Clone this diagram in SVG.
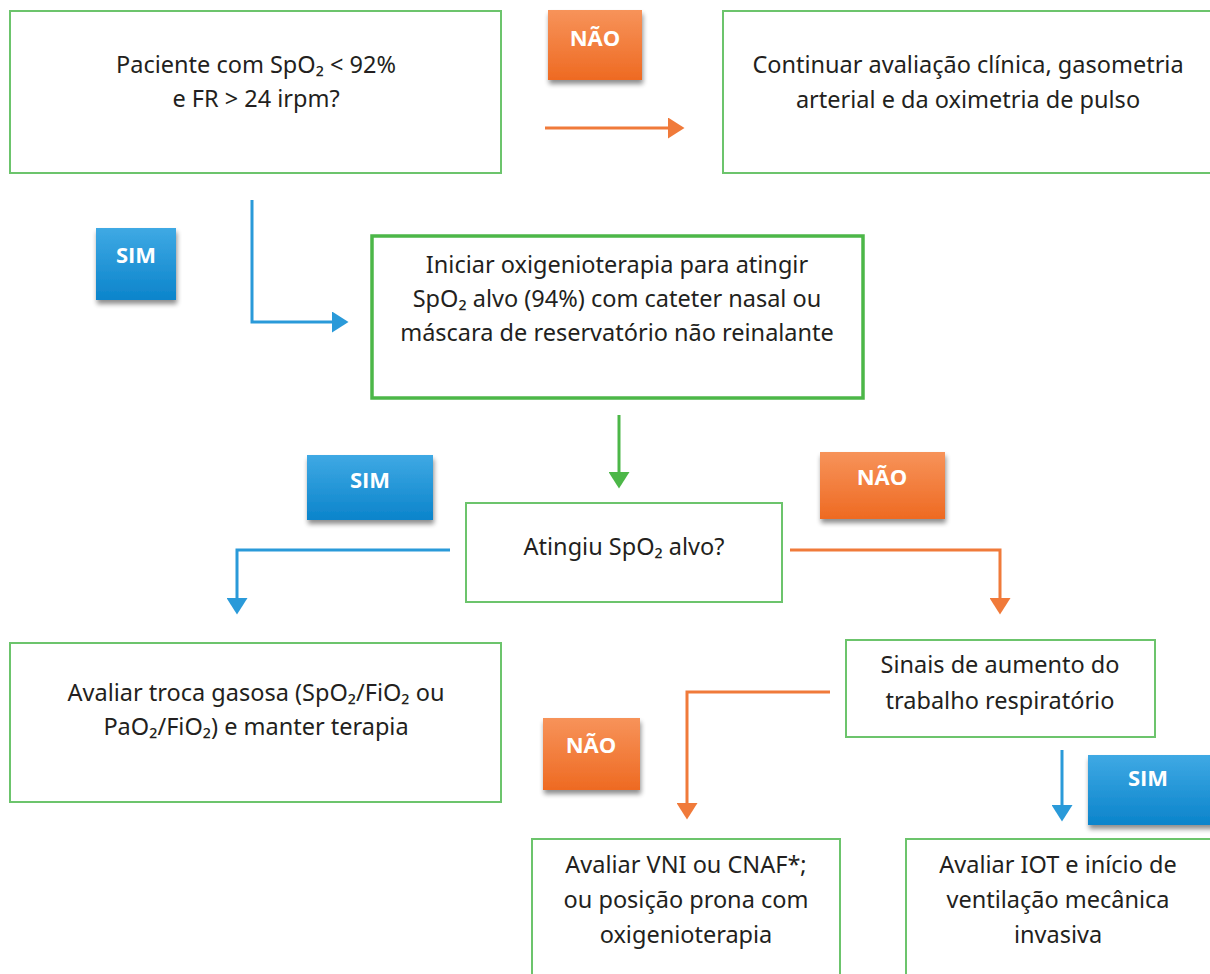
<svg xmlns="http://www.w3.org/2000/svg" width="1210" height="974" viewBox="0 0 1210 974">
<defs>
<linearGradient id="gOr" x1="0" y1="0" x2="0" y2="1"><stop offset="0" stop-color="#f7935a"/><stop offset="1" stop-color="#ee6a22"/></linearGradient>
<linearGradient id="gBl" x1="0" y1="0" x2="0" y2="1"><stop offset="0" stop-color="#3fa9e4"/><stop offset="1" stop-color="#0b84cb"/></linearGradient>
<filter id="sh" x="-20%" y="-20%" width="150%" height="150%"><feGaussianBlur in="SourceAlpha" stdDeviation="2.5"/><feOffset dx="1" dy="4"/><feComponentTransfer><feFuncA type="linear" slope="0.45"/></feComponentTransfer><feMerge><feMergeNode/><feMergeNode in="SourceGraphic"/></feMerge></filter>
<marker id="aO" markerWidth="6" markerHeight="7" refX="4" refY="3.5" orient="auto" markerUnits="strokeWidth"><path d="M0,0 L5.5,3.5 L0,7 z" fill="#f07a3a"/></marker>
<marker id="aB" markerWidth="6" markerHeight="7" refX="4" refY="3.5" orient="auto" markerUnits="strokeWidth"><path d="M0,0 L5.5,3.5 L0,7 z" fill="#2a9ad9"/></marker>
<marker id="aG" markerWidth="6" markerHeight="7" refX="4" refY="3.5" orient="auto" markerUnits="strokeWidth"><path d="M0,0 L5.5,3.5 L0,7 z" fill="#4cb748"/></marker>
</defs>
<style>
.box{fill:#fff;stroke:#6cc46c;stroke-width:2}
.boxT{fill:#fff;stroke:#4cb748;stroke-width:3.5}
.t{font-family:"Noto Sans","Open Sans",sans-serif;font-size:23.5px;fill:#231f20;text-anchor:middle}
.b{font-family:"Open Sans","Noto Sans",sans-serif;font-size:22px;font-weight:bold;fill:#fff;text-anchor:middle}
.lo{fill:none;stroke:#f07a3a;stroke-width:3}
.lb{fill:none;stroke:#2a9ad9;stroke-width:3}
.lg{fill:none;stroke:#4cb748;stroke-width:3}
</style>
<rect width="1210" height="974" fill="#fff"/>

<g id="connectors">
<path class="lo" d="M545,128 H680" marker-end="url(#aO)"/>
<path class="lb" d="M252,200 V322 H344" marker-end="url(#aB)"/>
<path class="lg" d="M619,415 V484" marker-end="url(#aG)"/>
<path class="lb" d="M450,550 H237 V610" marker-end="url(#aB)"/>
<path class="lo" d="M790,550 H1000 V610" marker-end="url(#aO)"/>
<path class="lo" d="M830,692 H687 V815" marker-end="url(#aO)"/>
<path class="lb" d="M1062,750 V817" marker-end="url(#aB)"/>
</g>

<g id="n1"><rect class="box" x="10" y="11" width="491" height="162"/>
<text class="t" x="256" y="73">Paciente com SpO₂ &lt; 92%</text>
<text class="t" x="256" y="107">e FR &gt; 24 irpm?</text></g>

<g id="lbl-nao1"><rect x="548" y="10" width="94" height="70" fill="url(#gOr)" filter="url(#sh)"/>
<text class="b" x="595" y="46">NÃO</text></g>

<g id="n2"><rect class="box" x="723" y="11" width="495" height="162"/>
<text class="t" x="968" y="73">Continuar avaliação clínica, gasometria</text>
<text class="t" x="968" y="108">arterial e da oximetria de pulso</text></g>

<g id="lbl-sim1"><rect x="96" y="228" width="80" height="72" fill="url(#gBl)" filter="url(#sh)"/>
<text class="b" x="136" y="263">SIM</text></g>

<g id="n3"><rect class="boxT" x="372" y="236" width="491" height="162"/>
<text class="t" x="617" y="273">Iniciar oxigenioterapia para atingir</text>
<text class="t" x="617" y="307">SpO₂ alvo (94%) com cateter nasal ou</text>
<text class="t" x="617" y="341">máscara de reservatório não reinalante</text></g>

<g id="lbl-sim2"><rect x="307" y="455" width="126" height="65" fill="url(#gBl)" filter="url(#sh)"/>
<text class="b" x="370" y="488">SIM</text></g>

<g id="lbl-nao2"><rect x="820" y="452" width="125" height="67" fill="url(#gOr)" filter="url(#sh)"/>
<text class="b" x="882" y="485">NÃO</text></g>

<g id="n4"><rect class="box" x="466" y="503" width="316" height="99"/>
<text class="t" x="624" y="555">Atingiu SpO₂ alvo?</text></g>

<g id="n5"><rect class="box" x="10" y="643" width="491" height="159"/>
<text class="t" x="256" y="701">Avaliar troca gasosa (SpO₂/FiO₂ ou</text>
<text class="t" x="256" y="735">PaO₂/FiO₂) e manter terapia</text></g>

<g id="n6"><rect class="box" x="846" y="640" width="309" height="97"/>
<text class="t" x="1000" y="673">Sinais de aumento do</text>
<text class="t" x="1000" y="709">trabalho respiratório</text></g>

<g id="lbl-nao3"><rect x="543" y="718" width="97" height="72" fill="url(#gOr)" filter="url(#sh)"/>
<text class="b" x="591" y="753">NÃO</text></g>

<g id="lbl-sim3"><rect x="1088" y="755" width="130" height="70" fill="url(#gBl)" filter="url(#sh)"/>
<text class="b" x="1148" y="786">SIM</text></g>

<g id="n7"><rect class="box" x="532" y="839" width="308" height="145"/>
<text class="t" x="686" y="873">Avaliar VNI ou CNAF*;</text>
<text class="t" x="686" y="908">ou posição prona com</text>
<text class="t" x="686" y="943">oxigenioterapia</text></g>

<g id="n8"><rect class="box" x="906" y="839" width="312" height="145"/>
<text class="t" x="1058" y="873">Avaliar IOT e início de</text>
<text class="t" x="1058" y="908">ventilação mecânica</text>
<text class="t" x="1058" y="943">invasiva</text></g>
</svg>
